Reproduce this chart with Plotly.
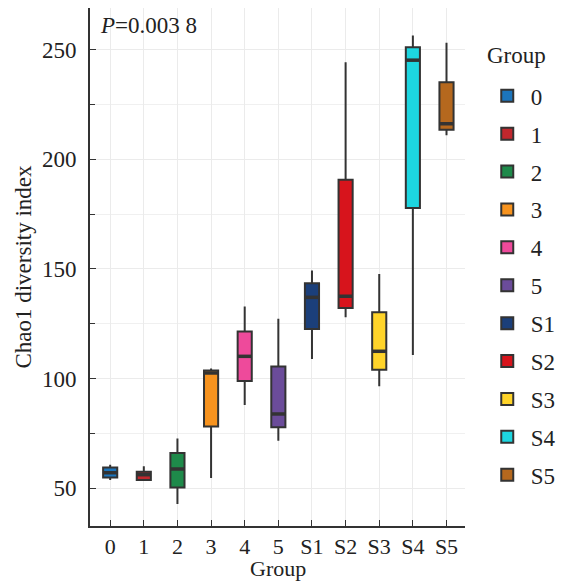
import plotly.graph_objects as go

groups = ["0", "1", "2", "3", "4", "5", "S1", "S2", "S3", "S4", "S5"]
lower = [53.7, 53.5, 42.7, 54.6, 87.9, 71.6, 108.9, 127.9, 96.4, 110.7, 210.9]
q1 = [54.8, 53.7, 50.3, 78.1, 98.9, 77.7, 122.6, 132.2, 104.0, 177.8, 213.5]
median = [57.0, 56.1, 58.7, 102.5, 110.1, 83.8, 137.0, 137.5, 112.4, 245.2, 216.2]
q3 = [59.4, 57.4, 66.0, 103.6, 121.4, 105.5, 143.4, 190.6, 130.2, 251.1, 235.1]
upper = [60.6, 59.9, 72.6, 104.5, 132.8, 127.2, 149.2, 244.2, 147.7, 256.5, 253.2]
colors = ["#1C75BC", "#C1272D", "#1E8A4A", "#F7931E", "#EE4A9B", "#6B4C9A",
          "#1B3F7A", "#D7141C", "#FFD42A", "#1DD6E0", "#B5681E"]

FONT = "Liberation Serif"
BOXW = 0.42
fig = go.Figure()
for i, g in enumerate(groups):
    fig.add_trace(go.Box(
        x=[g], name=g, legendgroup=g,
        q1=[q1[i]], median=[median[i]], q3=[q3[i]],
        lowerfence=[lower[i]], upperfence=[upper[i]],
        fillcolor=colors[i], line=dict(color="#333333", width=2),
        whiskerwidth=0, width=BOXW, boxpoints=False,
        hoverinfo="skip",
    ))
    # thicker median bar, as in the reference
    fig.add_shape(type="line", xref="x", yref="y",
                  x0=i - BOXW / 2, x1=i + BOXW / 2, y0=median[i], y1=median[i],
                  line=dict(color="#333333", width=3.5))

fig.update_layout(
    width=569, height=581,
    margin=dict(l=90, r=102, t=8, b=55),
    paper_bgcolor="white", plot_bgcolor="white",
    font=dict(family=FONT, size=23, color="#222222"),
    showlegend=True,
    legend=dict(x=1.05, xanchor="left", y=0.872, yanchor="top",
                tracegroupgap=5, itemwidth=37, font=dict(size=23)),
    annotations=[
        dict(text="<i>P</i>=0.003 8", xref="paper", yref="paper",
             x=0.021, y=0.995, xanchor="left", yanchor="top",
             showarrow=False, font=dict(size=23, color="#222222")),
        dict(text="Group", xref="paper", yref="paper",
             x=1.052, y=0.909, xanchor="left", yanchor="middle",
             showarrow=False, font=dict(size=23, color="#222222")),
        dict(text="Group", xref="paper", yref="paper",
             x=0.5, y=-0.083, xanchor="center", yanchor="middle",
             showarrow=False, font=dict(size=22, color="#222222")),
    ],
)
fig.update_xaxes(
    categoryorder="array", categoryarray=groups,
    range=[-0.6, 10.55], automargin=False,
    tickfont=dict(size=22), ticklabelstandoff=0,
    showline=True, linecolor="#333333", linewidth=1.6,
    ticks="inside", ticklen=6, tickcolor="#333333", tickwidth=1.4,
    showgrid=True, gridcolor="#ebebeb", gridwidth=1.4,
)
fig.update_yaxes(
    range=[32.7, 269],
    tickvals=[50, 100, 150, 200, 250],
    title=dict(text="Chao1 diversity index", standoff=4, font=dict(size=23)),
    tickfont=dict(size=23), ticklabelstandoff=7,
    showline=True, linecolor="#333333", linewidth=1.6,
    ticks="inside", ticklen=6, tickcolor="#333333", tickwidth=1.4,
    showgrid=True, gridcolor="#ebebeb", gridwidth=1.4,
    zeroline=False,
    minor=dict(tickvals=[75, 125, 175, 225], ticks="inside", ticklen=5,
               tickcolor="#333333", showgrid=True, gridcolor="#f0f0f0", gridwidth=1.2),
)
fig.write_html("out.html", config={"displayModeBar": False},
               post_script="document.body.style.margin='0';")
